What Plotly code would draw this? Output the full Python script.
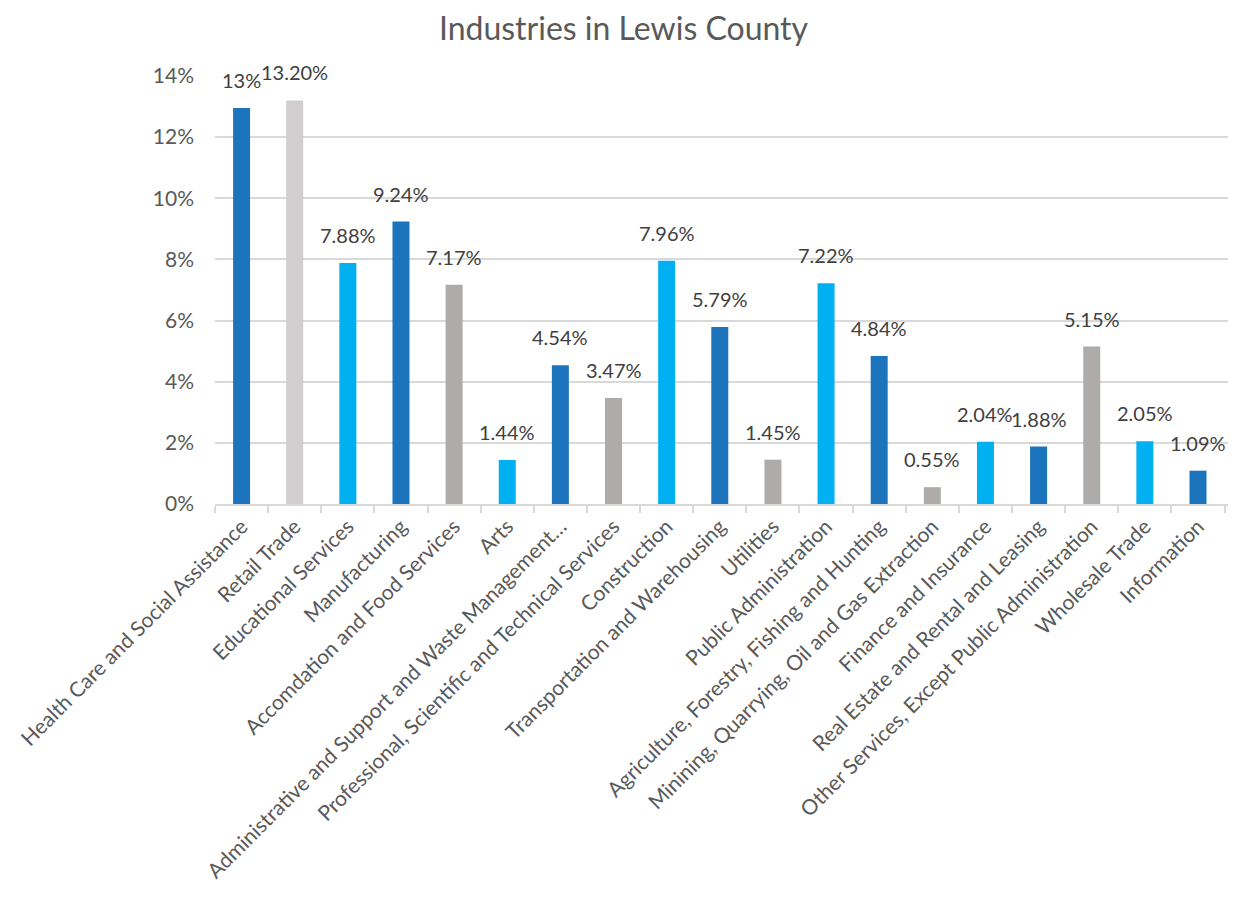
import plotly.graph_objects as go

categories = [
    "Health Care and Social Assistance", "Retail Trade", "Educational Services",
    "Manufacturing", "Accomdation and Food Services", "Arts",
    "Administrative and Support and Waste Management…",
    "Professional, Scientific and Technical Services", "Construction",
    "Transportation and Warehousing", "Utilities", "Public Administration",
    "Agriculture, Forestry, Fishing and Hunting",
    "Minining, Quarrying, Oil and Gas Extraction", "Finance and Insurance",
    "Real Estate and Rental and Leasing",
    "Other Services, Except Public Administration", "Wholesale Trade", "Information",
]
values = [12.95, 13.20, 7.88, 9.24, 7.17, 1.44, 4.54, 3.47, 7.96, 5.79,
          1.45, 7.22, 4.84, 0.55, 2.04, 1.88, 5.15, 2.05, 1.09]
labels = ["13%", "13.20%", "7.88%", "9.24%", "7.17%", "1.44%", "4.54%", "3.47%",
          "7.96%", "5.79%", "1.45%", "7.22%", "4.84%", "0.55%", "2.04%", "1.88%",
          "5.15%", "2.05%", "1.09%"]
y_ticks = [0, 2, 4, 6, 8, 10, 12, 14]
y_tick_text = ["0%", "2%", "4%", "6%", "8%", "10%", "12%", "14%"]

DARK = "#1C75BC"
LIGHT = "#D0CECE"
CYAN = "#00B0F0"
GRAY = "#AEABAB"
palette = [DARK, LIGHT, CYAN, DARK, GRAY, CYAN, DARK, GRAY, CYAN, DARK,
           GRAY, CYAN, DARK, GRAY, CYAN, DARK, GRAY, CYAN, DARK]

FONT = "Lato"
TXT = "#595959"

fig = go.Figure()
fig.add_trace(go.Bar(
    x=categories, y=values, marker=dict(color=palette, line=dict(width=0)),
    hoverinfo="skip",
))

for c, v, t in zip(categories, values, labels):
    fig.add_annotation(x=c, y=v, text=t, showarrow=False, yanchor="middle",
                       yshift=28, font=dict(family=FONT, size=20, color="#404040"))

fig.update_layout(
    width=1231, height=892,
    paper_bgcolor="white", plot_bgcolor="white",
    margin=dict(l=207, r=11, t=68, b=396),
    bargap=0.68,
    showlegend=False,
    title=dict(text="Industries in Lewis County", x=0.5, xanchor="center",
               y=1 - 21 / 892, yanchor="middle",
               font=dict(family=FONT, size=32, color=TXT)),
    font=dict(family=FONT, color=TXT),
)
fig.update_xaxes(
    type="category", tickangle=-45, tickfont=dict(family=FONT, size=21, color=TXT),
    showline=True, linecolor="#D9D9D9", linewidth=2,
    ticks="outside", tickson="boundaries", ticklen=7, tickcolor="#D9D9D9", tickwidth=2,
    showgrid=False, automargin=False,
)
fig.update_yaxes(
    range=[0, 14], tickvals=y_ticks, ticktext=y_tick_text,
    tickfont=dict(family=FONT, size=21, color=TXT),
    showgrid=True, gridcolor="#D9D9D9", gridwidth=2,
    zeroline=False, showline=False, ticklabelstandoff=20, automargin=False,
)

fig.write_html("out.html")
